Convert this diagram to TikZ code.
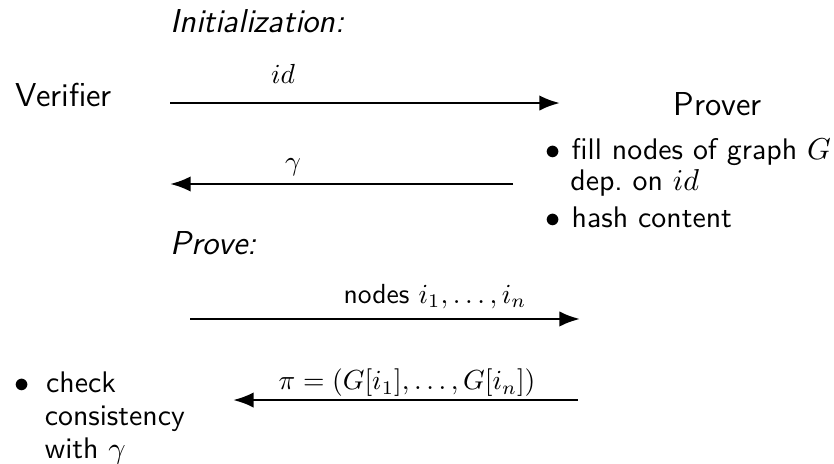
\documentclass[tikz,border=0pt]{standalone}
\usepackage{enumitem}
\usetikzlibrary{arrows.meta}
\renewcommand{\familydefault}{\sfdefault}

\begin{document}
\begin{tikzpicture}[
        msg/.style={-{Latex}, line width=1pt},
        party/.style={anchor=base west, inner sep=0pt, font=\large},
        phase/.style={anchor=base west, inner sep=0pt, font=\large\itshape},
        lbl/.style={anchor=base, inner sep=0pt},
        todo/.style={anchor=base west, inner sep=0pt, align=left, font=\fontsize{10.8}{11.2}\selectfont}
    ]
        \useasboundingbox (0,0) rectangle (10.62,5.896);

        \node[phase] (init) at (2.165,5.488) {Initialization:};
        \node[party] (verifier) at (0.191,4.546) {Verifier};
        \node[party] (prover) at (8.570,4.419) {Prover};
        \node[phase] (prove) at (2.165,2.649) {Prove:};

        % initialization round
        \coordinate (v1) at (2.165,4.584);
        \coordinate (p1) at (7.131,4.584);
        \coordinate (p2) at (6.533,3.553);
        \coordinate (v2) at (2.165,3.553);
        \draw[msg] (v1) -- (p1);
        \draw[msg] (p2) -- (v2);
        \node[lbl] (id) at (3.604,4.839) {$id$};
        \node[lbl] (gamma) at (3.731,3.731) {$\gamma$};

        \node[todo, text width=3.7cm] (ptodo) at (6.94,4.253) {%
            \begin{itemize}[label=$\bullet$, align=left, labelwidth=5pt, labelsep=4pt, leftmargin=9pt, nosep, itemsep=2pt]
                \item fill nodes of graph $G$\\ dep.\ on $id$
                \item hash content
            \end{itemize}};

        % prove round
        \coordinate (v3) at (2.420,1.834);
        \coordinate (p3) at (7.386,1.834);
        \coordinate (p4) at (7.360,0.802);
        \coordinate (v4) at (2.967,0.802);
        \draw[msg] (v3) -- (p3);
        \draw[msg] (p4) -- (v4);
        \node[lbl] (chal) at (5.539,2.037) {nodes $i_1,\ldots,i_n$};
        \node[lbl] (proof) at (5.183,0.930) {$\pi = (G[i_1],\ldots,G[i_n])$};

        \node[todo, text width=2.2cm, font=\fontsize{10.8}{12}\selectfont] (vtodo) at (0.178,1.324) {%
            \begin{itemize}[label=$\bullet$, align=left, labelwidth=5pt, labelsep=6pt, leftmargin=11pt, nosep]
                \item check\\ consistency\\ with $\gamma$
            \end{itemize}};
    \end{tikzpicture}
\end{document}
